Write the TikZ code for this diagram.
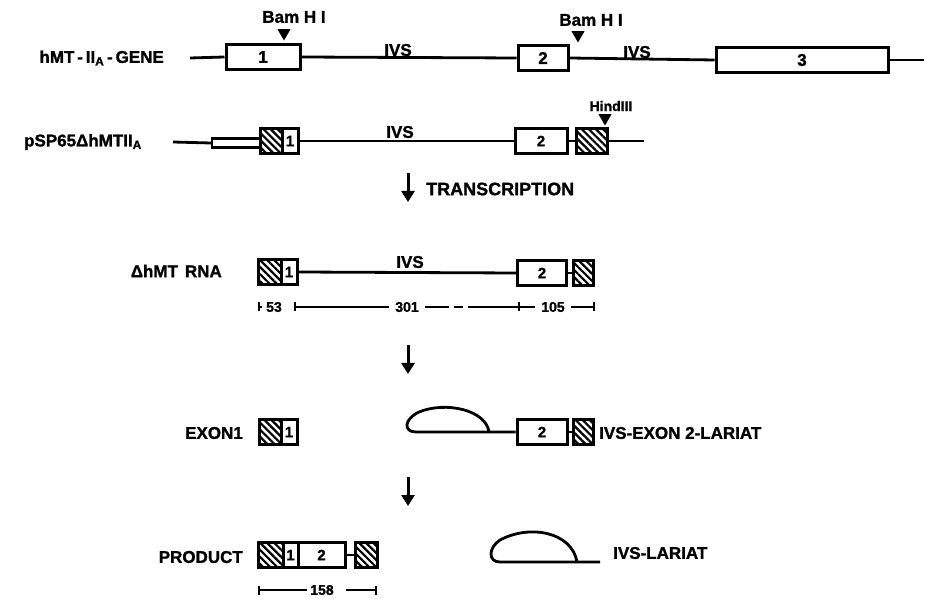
\documentclass[tikz,border=0pt]{standalone}
\usepackage{fontspec}
\setmainfont{Liberation Sans}[BoldFeatures={FakeBold=1.3}]
\usetikzlibrary{arrows.meta,patterns.meta,shapes.geometric}

\tikzset{
  dna/.style={line width=2.8pt},
  boxbase/.style={draw, line width=3pt, inner sep=0pt, minimum height=25pt},
  exon/.style={boxbase, fill=white, font=\fontsize{17}{17}\selectfont\bfseries},
  exonsm/.style={boxbase, fill=white, font=\fontsize{15}{15}\selectfont\bfseries},
  hatchbox/.style={boxbase, pattern={Lines[angle=-45,distance=5pt,line width=2.2pt]}},
  site/.style={regular polygon, regular polygon sides=3, shape border rotate=180,
    fill, inner sep=0pt, minimum size=15pt},
  lbl/.style={font=\fontsize{17}{17}\selectfont\bfseries, inner sep=0pt},
  small/.style={font=\fontsize{14}{14}\selectfont\bfseries, inner sep=0pt},
  flowarrow/.style={line width=3pt, -{Triangle[width=13pt,length=11pt]}},
  ruler/.style={line width=1.6pt},
  tick/.style={ruler, {Bar[width=9pt]}-},
  tickend/.style={ruler, -{Bar[width=9pt]}}
}

\begin{document}
\begin{tikzpicture}[x=1pt,y=-1pt]
\useasboundingbox (0,0) rectangle (926,601);

% gene
\node[lbl, anchor=east] (gname) at (164,58) {hMT\,-\,II\textsubscript{A}\,-\,GENE};
\coordinate (g0) at (190,58);
\node[exon, minimum width=74pt] (g1) at (263,57) {1};
\node[exon, minimum width=50pt] (g2) at (543,58) {2};
\node[exon, minimum width=172pt] (g3) at (802,60) {3};
\coordinate (g4) at (924,60);
\draw[dna] (g0) -- (g1.west);
\draw[dna] (g1.east) -- (g2.west);
\draw[dna] (g2.east) -- (g3.west);
\draw[dna] (g3.east) -- (g4);
\node[lbl] (givs1) at (398,50) {IVS};
\node[lbl] (givs2) at (637,52) {IVS};
\node[site] (bam1) at (284,33) {};
\node[lbl] (bam1l) at (294,17) {Bam H I};
\node[site] (bam2) at (578,35) {};
\node[lbl] (bam2l) at (591,20) {Bam H I};

% plasmid
\node[lbl, anchor=east] (pname) at (142,142) {pSP65Δ{}hMTII\textsubscript{A}};
\coordinate (p0) at (173,142);
\node[boxbase, minimum width=48pt, minimum height=9pt, line width=2.4pt] (pv) at (236,143) {};
\node[hatchbox, minimum width=22pt] (ph1) at (271,141) {};
\node[exonsm, minimum width=16pt] (pn1) at (290,141) {1};
\node[exonsm, minimum width=52pt] (pe2) at (541,141) {2};
\node[hatchbox, minimum width=31pt] (ph2) at (592,141) {};
\coordinate (p1) at (644,141);
\draw[dna] (p0) -- (pv.west);
\draw[dna] (pn1.east) -- (pe2.west);
\draw[dna] (pe2.east) -- (ph2.west);
\draw[dna] (ph2.east) -- (p1);
\node[lbl] (pivs) at (400,132) {IVS};
\node[site] (hind) at (605,118) {};
\node[small] (hindl) at (611,106) {HindIII};

\coordinate (t0) at (408,173);
\coordinate (t1) at (408,202);
\draw[flowarrow] (t0) -- (t1);
\node[lbl, anchor=west, font=\fontsize{18}{18}\selectfont\bfseries] (transcr) at (426,189) {TRANSCRIPTION};

% RNA
\node[lbl, anchor=east] (rname) at (222,271) {ΔhMT\hspace{7pt}RNA};
\node[hatchbox, minimum width=23pt] (rh1) at (270,272) {};
\node[exonsm, minimum width=16pt] (rn1) at (289,272) {1};
\node[exonsm, minimum width=49pt] (re2) at (542,273) {2};
\node[hatchbox, minimum width=20pt] (rh2) at (583,273) {};
\draw[dna] (rn1.east) -- (re2.west);
\draw[dna] (re2.east) -- (rh2.west);
\node[lbl] (rivs) at (410,262) {IVS};

\coordinate (s0) at (258,307);
\node[small] (s53) at (274,307) {53};
\coordinate (s1) at (297,307);
\node[small] (s301) at (407,307) {301};
\coordinate (s2) at (518,307);
\node[small] (s105) at (553,307) {105};
\coordinate (s3) at (595,307);
\draw[tick] (s0) -- ([xshift=-4pt]s53.west);
\draw[tick] ([xshift=-3pt]s1) -- ([xshift=-6pt]s301.west);
\draw[ruler, dash pattern=on 24pt off 5pt on 9pt off 5pt on 60pt] ([xshift=6pt]s301.east) -- (s2);
\draw[tick] (s2) -- ([xshift=-6pt]s105.west);
\draw[tickend] ([xshift=6pt]s105.east) -- (s3);

\coordinate (a0) at (408,345);
\coordinate (a1) at (408,374);
\draw[flowarrow] (a0) -- (a1);

% splicing intermediates
\node[lbl, anchor=east] (xname) at (243,433) {EXON1};
\node[hatchbox, minimum width=22pt] (xh1) at (270,432) {};
\node[exonsm, minimum width=16pt] (xn1) at (289,432) {1};
\coordinate (lar1) at (489,432);
\node[exonsm, minimum width=50pt] (xe2) at (542,432) {2};
\node[hatchbox, minimum width=20pt] (xh2) at (583,432) {};
\draw[dna] (xe2.west) -- (lar1) -- (416,432)
  .. controls (403,432) and (404,419) .. (419,412)
  .. controls (446,401) and (486,410) .. (lar1);
\draw[dna] (xe2.east) -- (xh2.west);
\node[lbl, anchor=west] (xlar) at (599,433) {IVS-EXON 2-LARIAT};

\coordinate (b0) at (408,477);
\coordinate (b1) at (408,506);
\draw[flowarrow] (b0) -- (b1);

% products
\node[lbl, anchor=east] (prname) at (243,557) {PRODUCT};
\node[hatchbox, minimum width=25pt] (prh1) at (270.5,555) {};
\node[exonsm, minimum width=15pt] (prn1) at (290.5,555) {1};
\node[exonsm, minimum width=47pt] (prn2) at (321.5,555) {2};
\node[hatchbox, minimum width=22pt] (prh2) at (366,555) {};
\draw[dna] (prn2.east) -- (prh2.west);

\coordinate (q0) at (258,590);
\node[small] (q158) at (322,590) {158};
\coordinate (q1) at (377,590);
\draw[tick] (q0) -- ([xshift=-3pt]q158.west);
\draw[tickend] ([xshift=12pt]q158.east) -- (q1);

\coordinate (lar2) at (577,562);
\coordinate (lar2t) at (600,562);
\draw[dna] (lar2t) -- (lar2) -- (500,562)
  .. controls (488,562) and (488,548) .. (500,540)
  .. controls (530,524) and (572,532) .. (lar2);
\node[lbl, anchor=west] (plar) at (613,553) {IVS-LARIAT};
\end{tikzpicture}
\end{document}
